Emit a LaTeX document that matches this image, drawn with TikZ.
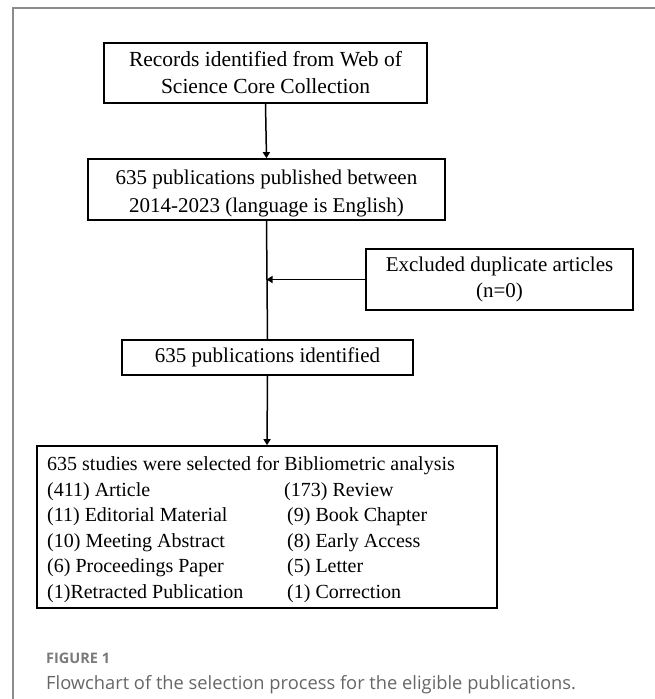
\documentclass[tikz,border=0pt]{standalone}
\usepackage{fontspec}
\setmainfont{Liberation Serif}
\newfontfamily\capfont{Open Sans}
\usetikzlibrary{arrows.meta}
\definecolor{framegray}{HTML}{8C8C8C}
\definecolor{capgray}{HTML}{666666}
\definecolor{figgray}{HTML}{7A7A7A}
\begin{document}
\begin{tikzpicture}[x=1pt,y=-1pt,
  box/.style={draw=black,line width=1.7pt,inner sep=0pt,align=center,
    font=\fontsize{21}{27}\selectfont},
  boxtxt/.style={inner sep=0pt,align=center,font=\fontsize{21}{27}\selectfont},
  conn/.style={line width=1.5pt,-{Triangle[length=6pt,width=7pt]}},
  linetxt/.style={anchor=base west,inner sep=0pt,font=\fontsize{20}{24}\selectfont},
  captxt/.style={anchor=base west,inner sep=0pt}]
\useasboundingbox (0,0) rectangle (655,699);
\draw[framegray,line width=2pt] (13,699) -- (13,8) -- (655,8);

\node[box,minimum width=323pt,minimum height=60pt,font=\fontsize{21.5}{27}\selectfont] (b1) at (265.5,73)
  {Records identified from Web of\\Science Core Collection};
\node[box,minimum width=357pt,minimum height=61pt] (b2) at (266.5,189.5) {};
\node[boxtxt,font=\fontsize{21}{28}\selectfont] (b2t) at (266.5,193)
  {635 publications published between\\2014-2023 (language is English)};
\node[box,minimum width=267pt,minimum height=61pt,font=\fontsize{21}{25.5}\selectfont] (b4) at (499.5,279.5)
  {Excluded duplicate articles\\(n=0)};
\node[box,minimum width=291pt,minimum height=35pt] (b3) at (267.5,357.5)
  {635 publications identified};
\node[box,minimum width=460pt,minimum height=162pt] (b5) at (267,527) {};

\coordinate (j) at (b4.west -| b2.south);

\draw[conn] (b1.south) -- (b2.north);
\draw[line width=1.5pt] (b2.south) -- (b3.north);
\draw[conn] (b4.west) -- (j);
\draw[conn] (b3.south) -- (b5.north);

\node[linetxt] (t0) at (47,470) {635 studies were selected for Bibliometric analysis};
\node[linetxt] (l1) at (47,496) {(411) Article};
\node[linetxt] (l2) at (47,521) {(11) Editorial Material};
\node[linetxt] (l3) at (47,547) {(10) Meeting Abstract};
\node[linetxt] (l4) at (47,572) {(6) Proceedings Paper};
\node[linetxt] (l5) at (47,598) {(1)Retracted Publication};
\node[linetxt] (r1) at (284,496) {(173) Review};
\node[linetxt] (r2) at (287,521) {(9) Book Chapter};
\node[linetxt] (r3) at (287,547) {(8) Early Access};
\node[linetxt] (r4) at (287,572) {(5) Letter};
\node[linetxt] (r5) at (287,598) {(1) Correction};

\node[captxt,text=figgray,font=\capfont\bfseries\fontsize{14.5}{17}\selectfont] (fig) at (46,663) {FIGURE 1};
\node[captxt,text=capgray,font=\capfont\fontsize{18.3}{22}\selectfont] (capt) at (46,689)
  {Flowchart of the selection process for the eligible publications.};
\end{tikzpicture}
\end{document}
